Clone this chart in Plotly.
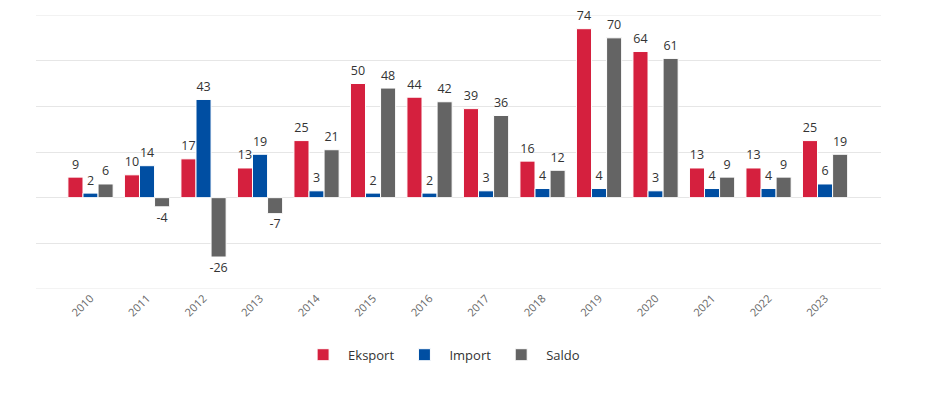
import plotly.graph_objects as go

years = ["2010", "2011", "2012", "2013", "2014", "2015", "2016", "2017", "2018", "2019", "2020", "2021", "2022", "2023"]
eksport = [9, 10, 17, 13, 25, 50, 44, 39, 16, 74, 64, 13, 13, 25]
import_ = [2, 14, 43, 19, 3, 2, 2, 3, 4, 4, 3, 4, 4, 6]
saldo = [6, -4, -26, -7, 21, 48, 42, 36, 12, 70, 61, 9, 9, 19]
grid_edges = [-40, 80]

series = [
    ("Eksport", eksport, "rgb(213,32,62)"),
    ("Import", import_, "rgb(0,78,162)"),
    ("Saldo", saldo, "rgb(100,100,100)"),
]

fig = go.Figure()
xidx = list(range(len(years)))
for name, vals, col in series:
    fig.add_trace(go.Bar(
        name=name, x=xidx, y=vals, offsetgroup=name,
        marker=dict(color=col, line=dict(color="white", width=1)),
    ))
# value labels: invisible markers (used as spacer) + text, grouped like the bars
for name, vals, col in series:
    fig.add_trace(go.Scatter(
        x=xidx, y=vals, offsetgroup=name, mode="markers+text",
        marker=dict(size=7, opacity=0),
        text=[str(v) for v in vals],
        textposition=["top center" if v >= 0 else "bottom center" for v in vals],
        textfont=dict(size=12.5, color="#333333", family="Open Sans"),
        cliponaxis=False, showlegend=False, hoverinfo="skip",
    ))

for g in grid_edges:
    fig.add_shape(type="line", xref="paper", x0=0, x1=1, yref="y", y0=g, y1=g,
                  line=dict(color="#e6e6e6", width=1), layer="below")

# page body has an 8px default margin: shrink figure to fit the window
fig.update_layout(
    width=937, height=387,
    margin=dict(l=28, r=64, t=7, b=106, autoexpand=False),
    paper_bgcolor="white", plot_bgcolor="white",
    barmode="group", bargap=0.2, bargroupgap=0,
    scattermode="group", scattergap=0.2,
    font=dict(family="Open Sans", size=12, color="#333333"),
    showlegend=True,
    legend=dict(orientation="h", x=0.48, xanchor="center", y=-0.24, yanchor="middle",
                font=dict(size=13, color="#333333"), traceorder="normal", itemwidth=40),
    xaxis=dict(
        tickmode="array", tickvals=xidx, ticktext=years,
        range=[-0.965, 13.99], tickangle=-45, automargin=False,
        tickfont=dict(size=11, color="#666666"),
        showgrid=False, showline=False, zeroline=False, ticks="",
    ),
    yaxis=dict(
        range=[-40, 80], dtick=20, tick0=0, automargin=False,
        showticklabels=False, showgrid=True, gridcolor="#e6e6e6", gridwidth=1,
        zeroline=True, zerolinecolor="#e6e6e6", zerolinewidth=1, showline=False,
    ),
)

fig.write_html("out.html")
